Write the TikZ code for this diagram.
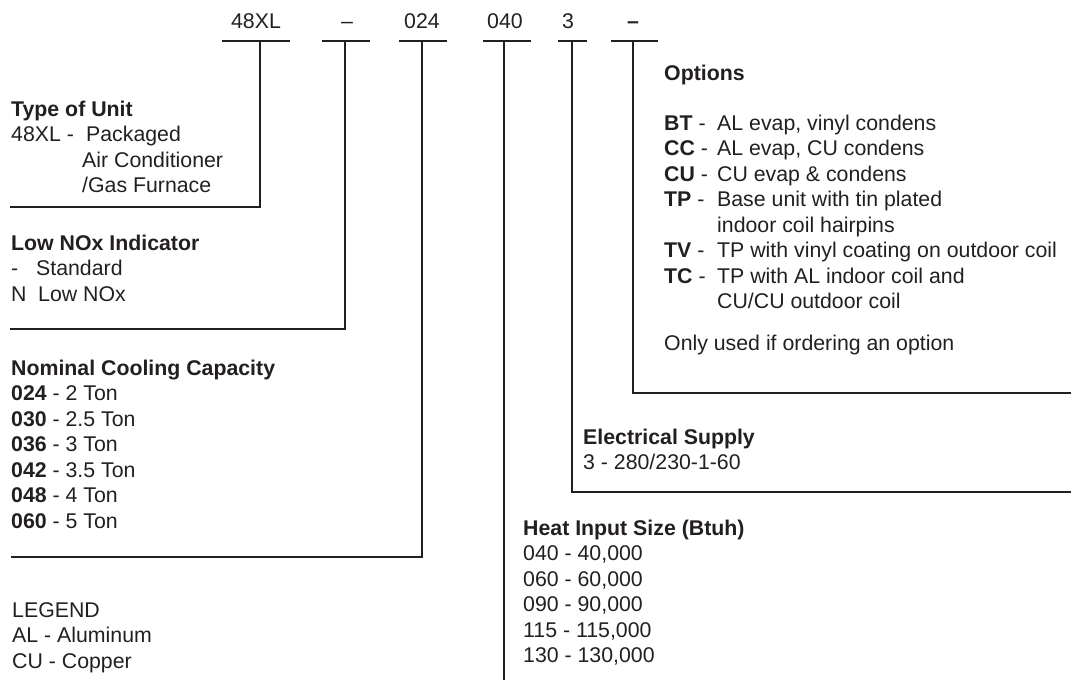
\documentclass[tikz,border=0pt]{standalone}
\usepackage{fontspec}
\setmainfont{Liberation Sans}
\definecolor{ink}{HTML}{231F20}
\newcommand{\optkey}[1]{\makebox[53pt][l]{\textbf{#1} -}}
\begin{document}
\begin{tikzpicture}[x=1pt, y=-1pt, color=ink, line width=2.4pt,
    code/.style={anchor=base, inner sep=0pt, font=\fontsize{21.3}{25.5}\selectfont},
    block/.style={anchor=base west, inner sep=0pt, align=left, font=\fontsize{21.3}{25.5}\selectfont}]
    \useasboundingbox (0,0) rectangle (1071,680);

    % model number digits
    \node[code] (c1) at (256,28) {48XL};
    \node[code] (c2) at (347,28) {--};
    \node[code] (c3) at (422,28) {024};
    \node[code] (c4) at (505,28) {040};
    \node[code] (c5) at (568,28) {3};
    \node[code] (c6) at (633,28) {\textbf{--}};

    \draw (222,41) -- (290,41);
    \draw (322,41) -- (370,41);
    \draw (399,41) -- (447,41);
    \draw (483,41) -- (531,41);
    \draw (558,41) -- (587,41);
    \draw (611,41) -- (658,41);

    \coordinate (unit) at (260,41);
    \coordinate (nox)  at (345,41);
    \coordinate (cool) at (422,41);
    \coordinate (heat) at (504,41);
    \coordinate (elec) at (572,41);
    \coordinate (opt)  at (633,41);

    \coordinate (unitEnd) at (10,207);
    \coordinate (noxEnd)  at (10,329);
    \coordinate (coolEnd) at (11,557);
    \coordinate (heatEnd) at (504,680);
    \coordinate (elecEnd) at (1071,492);
    \coordinate (optEnd)  at (1071,393);

    % leader lines
    \draw (unit) |- (unitEnd);
    \draw (nox) |- (noxEnd);
    \draw (cool) |- (coolEnd);
    \draw (heat) -- (heatEnd);
    \draw (elec) |- (elecEnd);
    \draw (opt) |- (optEnd);

    % descriptions (base = last line)
    \node[block] (typeText) at (10,192.5) {\textbf{Type of Unit}\\
        \makebox[75pt][l]{48XL -}Packaged\\
        \hspace*{71pt}Air Conditioner\\
        \hspace*{71pt}/Gas Furnace};
    \node[block] (noxText) at (10,301) {\textbf{Low NOx Indicator}\\
        \makebox[25pt][l]{-}Standard\\
        \makebox[27pt][l]{N}Low NOx};
    \node[block] (coolText) at (10,528) {\textbf{Nominal Cooling Capacity}\\
        \textbf{024} - 2 Ton\\
        \textbf{030} - 2.5 Ton\\
        \textbf{036} - 3 Ton\\
        \textbf{042} - 3.5 Ton\\
        \textbf{048} - 4 Ton\\
        \textbf{060} - 5 Ton};
    \node[block] (legend) at (11,668) {LEGEND\\
        AL - Aluminum\\
        CU - Copper};
    \node[block] (optTitle) at (663,80) {\textbf{Options}};
    \node[block] (optText) at (663,308.5) {\optkey{BT}AL evap, vinyl condens\\
        \optkey{CC}AL evap, CU condens\\
        \optkey{CU}CU evap \& condens\\
        \optkey{TP}Base unit with tin plated\\
        \hspace*{53pt}indoor coil hairpins\\
        \optkey{TV}TP with vinyl coating on outdoor coil\\
        \optkey{TC}TP with AL indoor coil and\\
        \hspace*{53pt}CU/CU outdoor coil};
    \node[block] (optNote) at (663,350) {Only used if ordering an option};
    \node[block] (elecText) at (582,469.5) {\textbf{Electrical Supply}\\
        3 - 280/230-1-60};
    \node[block] (heatText) at (522,662.5) {\textbf{Heat Input Size (Btuh)}\\
        040 - 40,000\\
        060 - 60,000\\
        090 - 90,000\\
        115 - 115,000\\
        130 - 130,000};

\end{tikzpicture}
\end{document}
